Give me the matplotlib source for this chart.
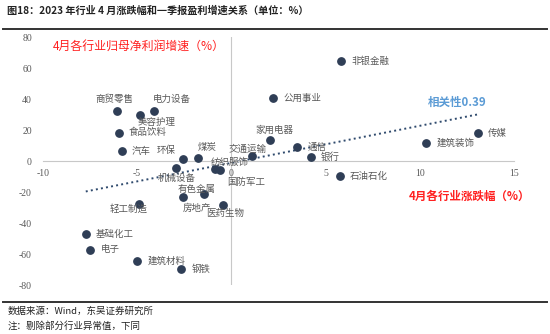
import numpy as np
import matplotlib
matplotlib.use('Agg')
import matplotlib.pyplot as plt

plt.rcParams['font.family'] = ['Noto Sans CJK SC', 'DejaVu Sans']
plt.rcParams['axes.unicode_minus'] = False

# 行业: 4月涨跌幅(%), 一季报归母净利润增速(%)
names = ['商贸零售', '电力设备', '美容护理', '食品饮料', '汽车', '环保', '煤炭',
         '交通运输', '纺织服饰', '国防军工', '机械设备', '有色金属', '房地产',
         '医药生物', '轻工制造', '基础化工', '电子', '建筑材料', '钢铁',
         '非银金融', '公用事业', '家用电器', '通信', '银行', '建筑装饰', '传媒', '石油石化']
chg = [-6.08, -4.10, -4.86, -5.96, -5.83, -2.57, -1.79,
       1.10, -0.85, -0.60, -2.94, -1.47, -2.55,
       -0.43, -4.93, -7.73, -7.48, -5.00, -2.66,
       5.83, 2.22, 2.04, 3.49, 4.20, 10.34, 13.07, 5.74]
growth = [32.5, 32.5, 29.7, 18.3, 6.2, 1.3, 1.9,
          3.2, -5.2, -5.8, -4.5, -21.5, -23.2,
          -28.2, -27.7, -47.1, -57.4, -64.5, -69.7,
          64.7, 40.6, 13.5, 8.8, 2.4, 11.8, 17.8, -9.7]
xticks = [-10, -5, 0, 5, 10, 15]
yticks = [-80, -60, -40, -20, 0, 20, 40, 60, 80]

# label placement (pixel offsets from the dot)
label_pos = {
    '商贸零售': (-2, 11, 'center'), '电力设备': (-1, 11, 'left'),
    '美容护理': (-2, -7, 'left'), '环保': (-7, 9, 'right'),
    '煤炭': (0, 11, 'left'), '交通运输': (-5, 7, 'center'),
    '纺织服饰': (-5, 7, 'left'), '国防军工': (7, -12, 'left'),
    '机械设备': (1, -10, 'center'), '有色金属': (-7, 5, 'center'),
    '房地产': (-1, -11, 'left'), '医药生物': (2, -9, 'center'),
    '轻工制造': (-10, -5, 'center'), '家用电器': (5, 10, 'center'),
}

fig = plt.figure(figsize=(5.5, 3.34), dpi=100)
ax = fig.add_axes([0.0782, 0.1467, 0.8563, 0.7425])
ax.set_xlim(-10, 15)
ax.set_ylim(-80, 80)

for s in ['top', 'right', 'left']:
    ax.spines[s].set_visible(False)
ax.spines['bottom'].set_position(('data', 0))
ax.spines['bottom'].set_color('#c8c8c8')
ax.axvline(0, color='#c8c8c8', lw=0.8, zorder=0)

ax.set_xticks(xticks)
ax.set_yticks(yticks)
ax.tick_params(length=0, labelsize=7, labelcolor='#595959')
ax.tick_params(axis='x', pad=6)
ax.tick_params(axis='y', pad=8)
for lab in ax.get_xticklabels() + ax.get_yticklabels():
    lab.set_family('Liberation Serif')

# trend line
k, b = np.polyfit(chg, growth, 1)
xs = np.array([min(chg), max(chg)])
ax.plot(xs, k * xs + b, ls=':', color='#2f4a6d', lw=1.4, zorder=2)

ax.scatter(chg, growth, s=28, color='#2f3e56', zorder=3)
for n, x, y in zip(names, chg, growth):
    dx, dy, ha = label_pos.get(n, (10, 0, 'left'))
    ax.annotate(n, (x, y), xytext=(dx, dy), textcoords='offset pixels',
                ha=ha, va='center', fontsize=6.8, color='#595959')

ax.text(-9.5, 74, '4月各行业归母净利润增速（%）', color='#ff2020', fontsize=8.6,
        ha='left', va='center')
ax.text(9.4, -22.5, '4月各行业涨跌幅（%）', color='#ff2020', fontsize=8.3,
        ha='left', va='center', fontweight='bold')
ax.text(10.4, 37.8, '相关性0.39', color='#5b9bd5', fontsize=8.3,
        ha='left', va='center', fontweight='bold')

fig.text(0.013, 0.967, '图18：2023 年行业 4 月涨跌幅和一季报盈利增速关系（单位：%）',
         fontsize=7.3, fontweight='bold', color='#222222', ha='left', va='center')
fig.add_artist(plt.Line2D([0.005, 0.995], [0.912, 0.912], color='#333333', lw=1.4))
fig.add_artist(plt.Line2D([0.005, 0.995], [0.097, 0.097], color='#333333', lw=1.4))
fig.text(0.013, 0.068, '数据来源：Wind，东吴证券研究所', fontsize=6.8,
         color='#222222', ha='left', va='center')
fig.text(0.013, 0.024, '注：剔除部分行业异常值，下同', fontsize=6.8,
         color='#222222', ha='left', va='center')

fig.savefig('out.png', dpi=100)
